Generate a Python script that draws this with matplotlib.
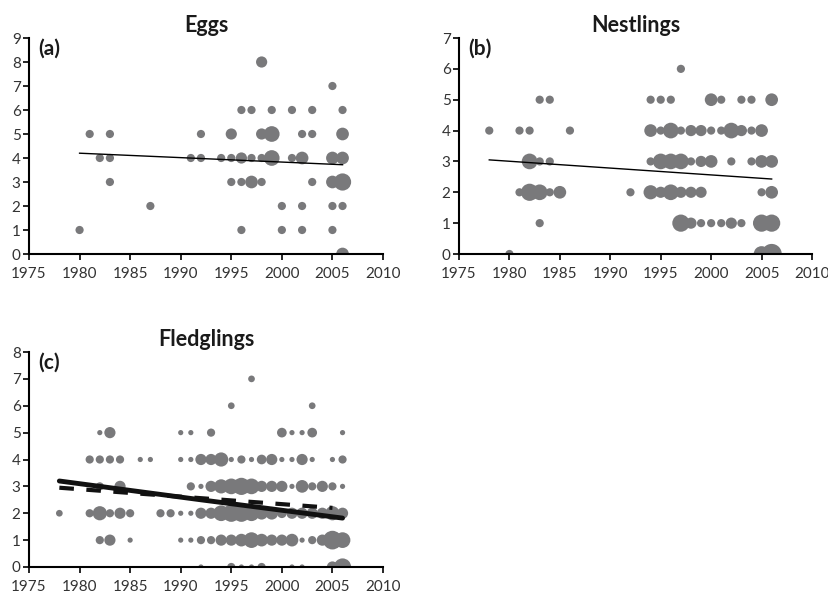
import matplotlib
matplotlib.use("Agg")
import matplotlib.pyplot as plt
import numpy as np

plt.rcParams['font.family'] = ['Lato', 'DejaVu Sans']

# ---------------- data ----------------
# (a) Eggs: year, value, size class (relative frequency)
eggs_year = [1980, 1981, 1982, 1983, 1983, 1983, 1987, 1991, 1992, 1992, 1994,
             1995, 1995, 1995, 1996, 1996, 1996, 1996, 1997, 1997, 1997,
             1998, 1998, 1998, 1998, 1999, 1999, 1999, 2000, 2000, 2001, 2001,
             2002, 2002, 2002, 2002, 2003, 2003, 2003,
             2005, 2005, 2005, 2005, 2005, 2006, 2006, 2006, 2006, 2006, 2006]
eggs_val = [1, 5, 4, 5, 4, 3, 2, 4, 5, 4, 4,
            5, 4, 3, 6, 4, 3, 1, 6, 4, 3,
            8, 5, 4, 3, 6, 5, 4, 2, 1, 6, 4,
            5, 4, 2, 1, 6, 5, 3,
            7, 4, 3, 2, 1, 6, 5, 4, 3, 2, 0]
eggs_n = [2, 2, 2, 2, 2, 2, 2, 2, 2, 2, 2,
          3, 2, 2, 2, 3, 2, 2, 2, 2, 3.5,
          3, 3, 2, 2, 2, 4.5, 4.5, 2, 2, 2, 2,
          2, 3.5, 2, 2, 2, 2, 2,
          2, 3.5, 3.5, 2, 2, 2, 3.5, 3.5, 5, 2, 3.5]
eggs_trend_x = [1980, 2006]
eggs_trend_y = [4.2, 3.72]

# (b) Nestlings
nest_year = [1978, 1980, 1981, 1981, 1982, 1982, 1982, 1983, 1983, 1983, 1983,
             1984, 1984, 1984, 1985, 1986, 1992,
             1994, 1994, 1994, 1994, 1995, 1995, 1995, 1995,
             1996, 1996, 1996, 1996, 1997, 1997, 1997, 1997, 1997,
             1998, 1998, 1998, 1998, 1999, 1999, 1999, 1999,
             2000, 2000, 2000, 2000, 2001, 2001, 2001,
             2002, 2002, 2002, 2003, 2003, 2003, 2004, 2004, 2004,
             2005, 2005, 2005, 2005, 2005, 2006, 2006, 2006, 2006, 2006]
nest_val = [4, 0, 4, 2, 4, 3, 2, 5, 3, 2, 1,
            5, 3, 2, 2, 4, 2,
            5, 4, 3, 2, 5, 4, 3, 2,
            5, 4, 3, 2, 6, 4, 3, 2, 1,
            4, 3, 2, 1, 4, 3, 2, 1,
            5, 4, 3, 1, 5, 4, 1,
            4, 3, 1, 5, 4, 1, 5, 4, 3,
            4, 3, 2, 1, 0, 5, 3, 2, 1, 0]
nest_n = [2, 2, 2, 2, 2, 4.5, 5, 2, 2, 4.5, 2,
          2, 2, 2, 3.5, 2, 2,
          2, 3.5, 2, 4, 2, 2, 4.5, 3,
          2, 4.5, 4.5, 4.5, 2, 2, 4.5, 3, 5,
          3, 2, 3, 3, 3, 3, 3, 2,
          3.5, 2, 3.5, 2, 2, 2, 2,
          4.5, 2, 3, 2, 3, 2, 2, 2, 2,
          3.5, 3.5, 2, 5, 4.5, 3.5, 3.5, 3.5, 5, 6]
nest_trend_x = [1978, 2006]
nest_trend_y = [3.05, 2.43]

# (c) Fledglings
fled_year = [1997,
             1995, 2003,
             1982, 1983, 1990, 1991, 1993, 2000, 2001, 2002, 2003, 2006,
             1981, 1982, 1983, 1984, 1986, 1987, 1990, 1991, 1992, 1993, 1994, 1995,
             1996, 1997, 1998, 1999, 2000, 2001, 2002, 2003, 2005, 2006,
             1982, 1984, 1991, 1992, 1993, 1994, 1995, 1996, 1997, 1998, 1999,
             2000, 2001, 2002, 2003, 2004, 2005, 2006,
             1978, 1981, 1982, 1983, 1984, 1985, 1988, 1989, 1990, 1991, 1992, 1993,
             1994, 1995, 1996, 1997, 1998, 1999, 2000, 2001, 2002, 2003, 2004, 2005, 2006,
             1982, 1983, 1985, 1990, 1991, 1992, 1993, 1994, 1995, 1996, 1997, 1998,
             1999, 2000, 2001, 2002, 2003, 2004, 2005, 2006,
             1992, 1995, 1996, 1997, 1998, 2001, 2002, 2005, 2006]
fled_val = [7,
            6, 6,
            5, 5, 5, 5, 5, 5, 5, 5, 5, 5,
            4, 4, 4, 4, 4, 4, 4, 4, 4, 4, 4, 4,
            4, 4, 4, 4, 4, 4, 4, 4, 4, 4,
            3, 3, 3, 3, 3, 3, 3, 3, 3, 3, 3,
            3, 3, 3, 3, 3, 3, 3,
            2, 2, 2, 2, 2, 2, 2, 2, 2, 2, 2, 2,
            2, 2, 2, 2, 2, 2, 2, 2, 2, 2, 2, 2, 2,
            1, 1, 1, 1, 1, 1, 1, 1, 1, 1, 1, 1,
            1, 1, 1, 1, 1, 1, 1, 1,
            0, 0, 0, 0, 0, 0, 0, 0, 0]
fled_n = [1.5,
          1.5, 1.5,
          1, 3, 1, 1, 2, 2.5, 1, 1, 2.5, 1,
          2, 2, 2, 2, 1, 1, 1, 1, 3, 3, 4, 1,
          2, 1, 2.5, 3, 1, 1, 3, 1, 1, 2,
          2, 3, 2, 1, 3, 4, 4.5, 5, 4.5, 3, 3,
          3, 1, 3.5, 2, 3, 2, 1,
          1.5, 2, 4, 2, 3, 2, 2, 2, 1, 1, 3, 3,
          4.5, 5, 5, 4.5, 3.5, 3.5, 2.5, 3, 3, 3, 3, 4, 3,
          2, 3, 1, 1, 1, 2, 2, 3, 3, 3.5, 4.5, 3.5,
          3, 3, 3.5, 1, 2, 3, 5.5, 4.5,
          1, 2, 1, 1, 2, 1, 1, 3, 5]
fled_trend_x = [1978, 1992, 2006]
fled_trend_y = [3.2, 2.5, 1.82]
fled_trend2_x = [1978, 2005]
fled_trend2_y = [2.95, 2.2]

years_ticks = [1975, 1980, 1985, 1990, 1995, 2000, 2005, 2010]

DOT = '#79797b'
TXT = '#333333'
W, H = 829, 601


def size_pts(n):
    d_px = 2.2 + 3.0 * np.asarray(n, dtype=float)   # diameter in pixels
    return (d_px * 0.72) ** 2


def style(ax, ymax, title, label):
    ax.set_xlim(1975, 2010)
    ax.set_ylim(0, ymax)
    ax.set_xticks(years_ticks)
    ax.set_yticks(range(0, ymax + 1))
    for s in ['top', 'right']:
        ax.spines[s].set_visible(False)
    for s in ['left', 'bottom']:
        ax.spines[s].set_linewidth(1.5)
        ax.spines[s].set_color('black')
        ax.spines[s].set_zorder(5)
    ax.tick_params(axis='both', direction='out', length=4, width=1.2,
                   color='black', labelsize=11, labelcolor=TXT)
    ax.tick_params(axis='x', pad=5.5)
    ax.tick_params(axis='y', pad=2)
    ax.set_title(title, fontsize=15.5, fontweight='bold', pad=4, color='#1a1a1a')
    ax.text(0.025, 0.995, label, transform=ax.transAxes, fontsize=15,
            fontweight='bold', va='top', ha='left', color='#1a1a1a')


fig = plt.figure(figsize=(W / 100, H / 100), dpi=100)

def box(l, r, b, t):
    return [l / W, 1 - b / H, (r - l) / W, (b - t) / H]

ax_a = fig.add_axes(box(29, 383, 254, 38))
ax_b = fig.add_axes(box(459, 812, 254, 38))
ax_c = fig.add_axes(box(29, 383, 567, 352))

ax_a.scatter(eggs_year, eggs_val, s=size_pts(eggs_n), color=DOT, linewidths=0, zorder=2)
ax_a.plot(eggs_trend_x, eggs_trend_y, color='black', lw=1.0, zorder=3)
style(ax_a, 9, 'Eggs', '(a)')

ax_b.scatter(nest_year, nest_val, s=size_pts(nest_n), color=DOT, linewidths=0, zorder=2)
ax_b.plot(nest_trend_x, nest_trend_y, color='black', lw=1.0, zorder=3)
style(ax_b, 7, 'Nestlings', '(b)')

ax_c.scatter(fled_year, fled_val, s=size_pts(fled_n), color=DOT, linewidths=0, zorder=2)
ax_c.plot(fled_trend2_x, fled_trend2_y, color='#111111', lw=3.0, dashes=(3.5, 3),
          zorder=3, solid_capstyle='butt')
ax_c.plot(fled_trend_x, fled_trend_y, color='#111111', lw=3.5, zorder=4,
          solid_capstyle='round')
style(ax_c, 8, 'Fledglings', '(c)')

fig.savefig('out.png', dpi=100)
